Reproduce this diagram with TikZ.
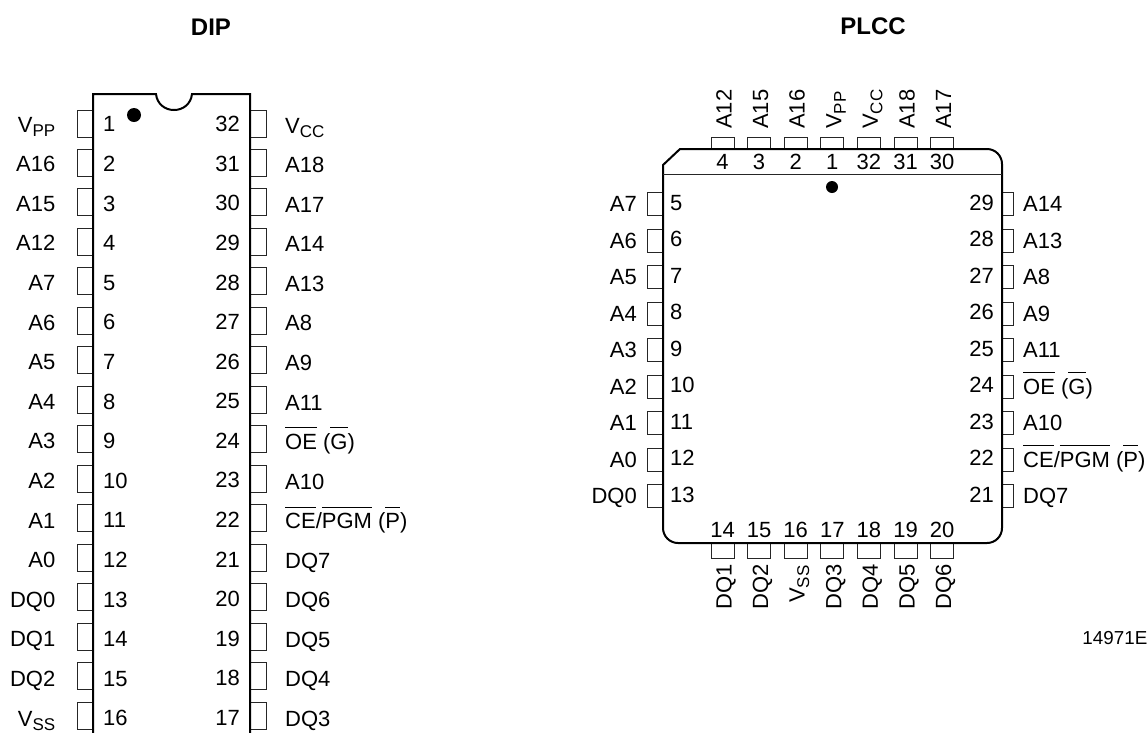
\documentclass[tikz,border=0pt]{standalone}
\usepackage{fontspec}
\setmainfont{Liberation Sans}
\newcommand{\vsub}[1]{V\raisebox{-4.5pt}{\fontsize{17}{19}\selectfont #1}}
\newcommand{\barred}[1]{$\overline{\mbox{\rule{0pt}{20.5pt}#1}}$}
\tikzstyle{chip} = [line width=2pt, black]
\tikzstyle{thinline} = [line width=0.9pt, black!85]
\tikzstyle{pinbox} = [rectangle, draw=black!85, line width=0.9pt, inner sep=0pt]
\tikzstyle{dippin} = [pinbox, minimum width=16pt, minimum height=27pt]
\tikzstyle{sidepin} = [pinbox, minimum width=16pt, minimum height=23pt]
\tikzstyle{rightpin} = [pinbox, minimum width=11pt, minimum height=23pt]
\tikzstyle{toppin} = [pinbox, minimum width=23pt, minimum height=12pt]
\tikzstyle{endpin} = [pinbox, minimum width=23pt, minimum height=15pt]
\tikzstyle{txt} = [inner sep=0pt, font=\fontsize{22}{26}\selectfont]
\tikzstyle{lefttxt} = [txt, anchor=base east]
\tikzstyle{righttxt} = [txt, anchor=base west]
\tikzstyle{midtxt} = [txt, anchor=base]
\tikzstyle{uptxt} = [txt, anchor=base west, rotate=90]
\tikzstyle{title} = [inner sep=0pt, anchor=base, font=\fontsize{24}{28}\selectfont\bfseries]
\tikzstyle{dot} = [circle, fill=black, inner sep=0pt]

\begin{document}
\begin{tikzpicture}[x=1pt,y=-1pt]
    \useasboundingbox (0,0) rectangle (1148,732);
    \node (diptitle) [title] at (211,35) {DIP};
    \node (plcctitle) [title] at (873,34.5) {PLCC};
    \node (partno) [lefttxt, font=\fontsize{18.8}{22}\selectfont] at (1147.5,644) {14971E};

    % DIP
    \foreach \n/\lab [count=\i from 0, evaluate=\i as \y using 123.5+39.47*\i] in {1/{\vsub{PP}},2/A16,3/A15,4/A12,5/A7,6/A6,7/A5,8/A4,9/A3,10/A2,11/A1,12/A0,13/DQ0,14/DQ1,15/DQ2,16/{\vsub{SS}}} {
        \node (dipl\n) [dippin] at (85,\y) {};
        \node (diplnum\n) [righttxt] at (103,\y+8.3+.13*\i) {\n};
        \node (dipllab\n) [lefttxt] at (55.5,\y+8.5+.13*\i) {\lab};
    }
    \foreach \n/\lab [count=\i from 0, evaluate=\i as \y using 123.5+39.47*\i] in {32/{\vsub{CC}},31/A18,30/A17,29/A14,28/A13,27/A8,26/A9,25/A11,24/{\barred{OE} (\barred{G})},23/A10,22/{\barred{CE}/\barred{PGM} (\barred{P})},21/DQ7,20/DQ6,19/DQ5,18/DQ4,17/DQ3} {
        \node (dipr\n) [dippin] at (258,\y) {};
        \node (diprnum\n) [lefttxt] at (240,\y+8.3+.1*\i) {\n};
        \node (diprlab\n) [righttxt] at (285,\y+9.5+.1*\i) {\lab};
    }
    \draw [chip] (93,733) -- (93,94) -- (156,94) .. controls (157,104) and (165,110) .. (174,110) .. controls (183,110) and (191,104) .. (192,94) -- (250,94) -- (250,733);
    \node (dipdot) [dot, minimum size=14pt] at (134,115) {};

    % PLCC
    \foreach \n/\lab [count=\i from 0, evaluate=\i as \x using 722.5+36.6*\i] in {4/A12,3/A15,2/A16,1/{\vsub{PP}},32/{\vsub{CC}},31/A18,30/A17} {
        \node (topp\n) [toppin] at (\x,143) {};
        \node (topnum\n) [midtxt] at (\x,169.5) {\n};
        \node (toplab\n) [uptxt] at (\x+9,129) {\lab};
    }
    \foreach \n/\lab/\s [count=\i from 0, evaluate=\i as \x using 722.5+36.6*\i] in {14/DQ1/610,15/DQ2/610,16/{\vsub{SS}}/603,17/DQ3/610,18/DQ4/610,19/DQ5/610,20/DQ6/610} {
        \node (botp\n) [endpin] at (\x,550.5) {};
        \node (botnum\n) [midtxt] at (\x,537) {\n};
        \node (botlab\n) [uptxt] at (\x+9,\s) {\lab};
    }
    \foreach \n/\lab [count=\i from 0, evaluate=\i as \y using 204+36.55*\i] in {5/A7,6/A6,7/A5,8/A4,9/A3,10/A2,11/A1,12/A0,13/DQ0} {
        \node (sidel\n) [sidepin] at (655,\y) {};
        \node (sidelnum\n) [righttxt] at (670,\y+6) {\n};
        \node (sidellab\n) [lefttxt] at (637,\y+7.5) {\lab};
    }
    \foreach \n/\lab [count=\i from 0, evaluate=\i as \y using 204+36.55*\i] in {29/A14,28/A13,27/A8,26/A9,25/A11,24/{\barred{OE} (\barred{G})},23/A10,22/{\barred{CE}/\barred{PGM} (\barred{P})},21/DQ7} {
        \node (sider\n) [rightpin] at (1007.5,\y) {};
        \node (sidernum\n) [lefttxt] at (994,\y+6) {\n};
        \node (siderlab\n) [righttxt] at (1023,\y+7.5) {\lab};
    }
    \draw [chip] (680,149) [rounded corners=15pt] -- (1002,149) -- (1002,543) -- (663,543) -- (663,300) [sharp corners] -- (663,165) -- cycle;
    \draw [thinline] (663,174) -- (1002,174);
    \node (plccdot) [dot, minimum size=12pt] at (832,187) {};
\end{tikzpicture}
\end{document}
